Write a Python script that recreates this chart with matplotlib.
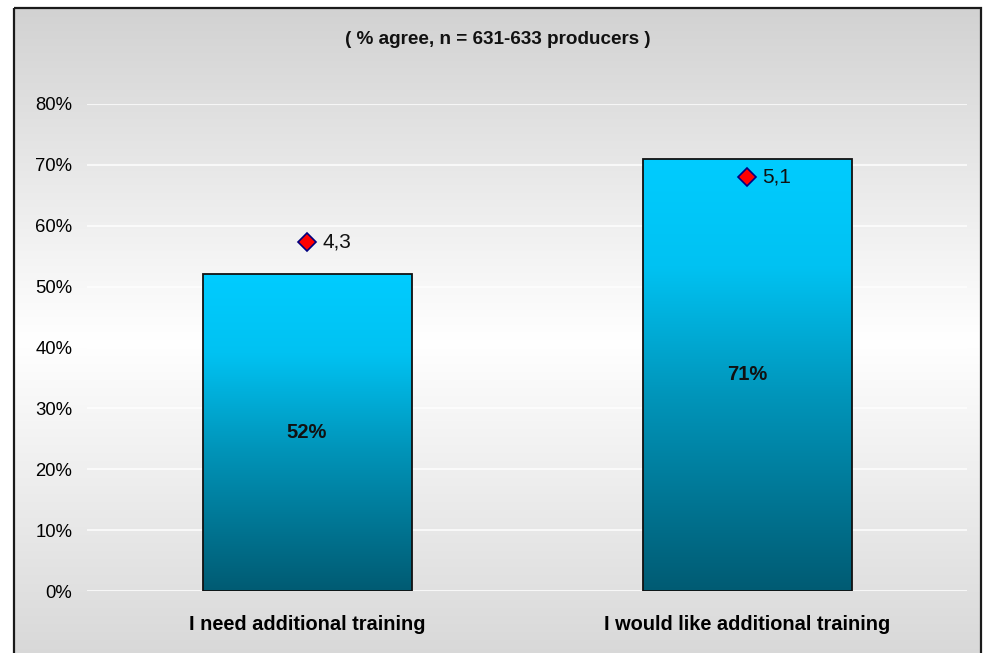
import numpy as np
import matplotlib
matplotlib.use('Agg')
import matplotlib.pyplot as plt
from matplotlib.colors import LinearSegmentedColormap
from matplotlib.patches import Rectangle

categories = ["I need additional training", "I would like additional training"]
agree_pct = [52, 71]
bar_labels = ["52%", "71%"]
mean_scores = [4.3, 5.1]
mean_labels = ["4,3", "5,1"]
ytick_vals = [0, 10, 20, 30, 40, 50, 60, 70, 80]
ytick_labels = ["0%", "10%", "20%", "30%", "40%", "50%", "60%", "70%", "80%"]
title = "( % agree, n = 631-633 producers )"

plt.rcParams['font.family'] = ['Liberation Sans', 'DejaVu Sans']

W, H = 983, 653
fig = plt.figure(figsize=(W / 100, H / 100), dpi=100)
fig.patch.set_facecolor('white')

# background frame with vertical gradient
bg = fig.add_axes([0, 0, 1, 1], zorder=-10)
bg.set_xlim(0, W)
bg.set_ylim(H, 0)
bg.axis('off')
bg_cmap = LinearSegmentedColormap.from_list(
    'bg', [(0.0, '#d2d2d2'), (0.51, '#ffffff'), (1.0, '#d8d8d8')])
grad = np.linspace(0, 1, 256).reshape(-1, 1)
bg.imshow(grad, cmap=bg_cmap, extent=[14, 981, H + 5, 8], aspect='auto',
          interpolation='bicubic', zorder=0)
bg.add_patch(Rectangle((14, 8), 967, H, fill=False, edgecolor='#1a1a1a',
                       linewidth=1.6, zorder=1))

fig.text(498 / W, 1 - 40 / H, title, ha='center', va='center',
         fontsize=13.6, fontweight='bold', color='#111111')

# main axes
ax = fig.add_axes([87 / W, 1 - 591 / H, 880 / W, 487 / H])
ax.patch.set_alpha(0)
ax.set_xlim(-0.5, 1.5)
ax.set_ylim(0, 80)
for s in ax.spines.values():
    s.set_visible(False)
ax.set_yticks(ytick_vals)
ax.set_yticklabels(ytick_labels, fontsize=13.3)
ax.tick_params(axis='y', length=0, pad=10.5)
ax.set_xticks(range(len(categories)))
ax.set_xticklabels(categories, fontsize=14.4, fontweight='bold')
ax.tick_params(axis='x', length=0, pad=17.5)
ax.yaxis.grid(True, color='white', alpha=0.75, linewidth=1.5)
ax.set_axisbelow(True)

bar_cmap = LinearSegmentedColormap.from_list(
    'bar', [(0.0, '#005b73'), (0.45, '#0095ba'), (0.75, '#00c2f2'), (1.0, '#00ccff')])
x = np.arange(len(categories))
bars = ax.bar(x, agree_pct, width=0.475, facecolor='none', edgecolor='#111111',
              linewidth=1.3, zorder=3)
for b, lab in zip(bars, bar_labels):
    x0, y0 = b.get_x(), b.get_y()
    w, h = b.get_width(), b.get_height()
    im = ax.imshow(grad, cmap=bar_cmap, origin='lower',
                   extent=[x0, x0 + w, y0, y0 + h], aspect='auto', zorder=2,
                   interpolation='bicubic')
    im.set_clip_path(b)
    ax.text(x0 + w / 2, h / 2, lab, ha='center', va='center', fontsize=14.5,
            fontweight='bold', color='#111111', zorder=5)
ax.set_xlim(-0.5, 1.5)
ax.set_ylim(0, 80)

# secondary (hidden) axis for mean scores
ax2 = ax.twinx()
ax2.set_ylim(0, 6)
ax2.axis('off')
ax2.plot(x, mean_scores, linestyle='none', marker='D', markersize=9,
         markerfacecolor='#ff0000', markeredgecolor='#000080',
         markeredgewidth=1.2, zorder=6)
for xi, yi, lab in zip(x, mean_scores, mean_labels):
    ax2.annotate(lab, (xi, yi), xytext=(11, 0), textcoords='offset points',
                 ha='left', va='center', fontsize=15, color='#111111')

fig.savefig('out.png', dpi=100)
